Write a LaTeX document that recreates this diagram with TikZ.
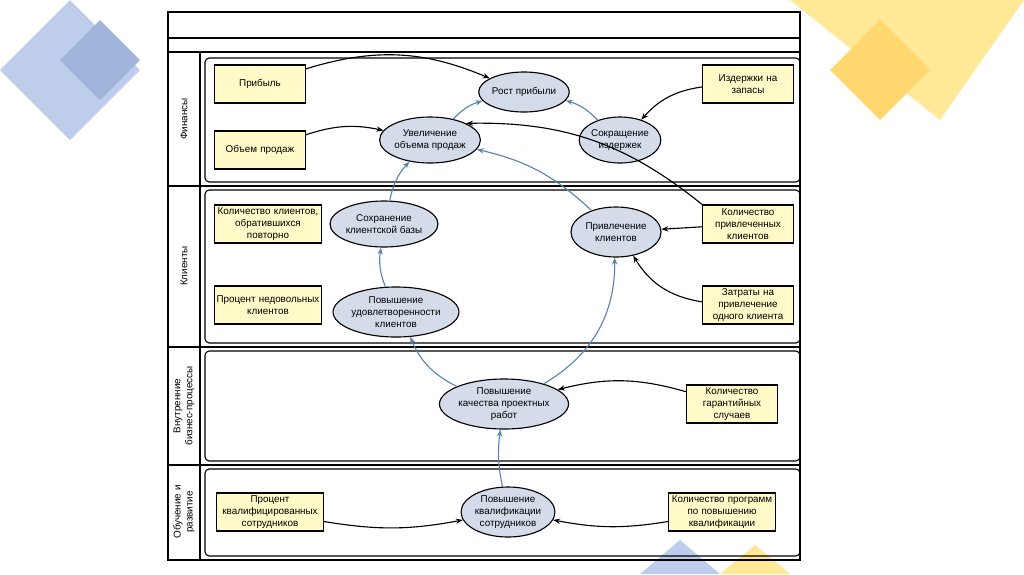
\documentclass[tikz,border=0pt]{standalone}
\usepackage{fontspec}
\setmainfont{Liberation Sans}
\usetikzlibrary{arrows.meta,shapes.geometric}
\definecolor{decoblue}{RGB}{190,205,235}
\definecolor{decoblue2}{RGB}{160,180,220}
\definecolor{decoyel}{RGB}{255,232,150}
\definecolor{decoyel2}{RGB}{255,215,110}
\definecolor{linkblue}{RGB}{90,130,180}
\definecolor{aimfill}{RGB}{212,220,234}
\definecolor{goalfill}{RGB}{255,250,200}
\begin{document}
\begin{tikzpicture}[x=0.025cm,y=-0.025cm,
  goal/.style={draw,thick,fill=goalfill,align=center,font=\fontsize{7}{8.5}\selectfont,minimum height=0.95cm,text width=2.2cm,inner sep=1pt},
  aim/.style={draw,thick,ellipse,fill=aimfill,align=center,font=\fontsize{7}{8.5}\selectfont,inner sep=0pt},
  blk/.style={-{Stealth[length=5pt]},thick},
  blu/.style={-{Stealth[length=5pt]},thick,linkblue},
  lane/.style={rotate=90,align=center,font=\fontsize{7}{8.5}\selectfont}]
\useasboundingbox (0,0) rectangle (1024,574);
% decoration
\fill[decoblue] (0,70) -- (70,0) -- (140,70) -- (70,140) -- cycle;
\fill[decoblue2] (60,60) -- (100,20) -- (140,60) -- (100,100) -- cycle;
\fill[decoyel] (790,0) -- (1024,0) -- (940,120) -- cycle;
\fill[decoyel2] (830,70) -- (880,20) -- (930,70) -- (880,120) -- cycle;
\fill[decoblue] (640,574) -- (680,540) -- (720,574) -- cycle;
\fill[decoyel] (720,574) -- (755,545) -- (790,574) -- cycle;
% frame and lanes
\draw[thick] (168,12) rectangle (800,560);
\draw[thick] (168,38) -- (800,38) (168,52) -- (800,52);
\draw[thick] (168,186) -- (800,186) (168,347) -- (800,347) (168,465) -- (800,465);
\draw[thick] (200,52) -- (200,560);
\foreach \a/\b in {58/182,190/343,351/461,469/556}
  \draw[thick,rounded corners=3] (205,\a) rectangle (800,\b);
\node[lane] (lf) at (184,119) {Финансы};
\node[lane] (lc) at (184,266) {Клиенты};
\node[lane] (lp) at (184,406) {Внутренние\\бизнес-процессы};
\node[lane] (ll) at (184,512) {Обучение и\\развитие};
% indicators
\node[goal] (pr) at (260,84) {Прибыль};
\node[goal] (ob) at (260,150) {Объем продаж};
\node[goal] (iz) at (748,84) {Издержки на\\запасы};
\node[goal,text width=2.6cm] (kp) at (268,224) {Количество клиентов,\\обратившихся\\повторно};
\node[goal,text width=2.6cm] (pn) at (268,305) {Процент недовольных\\клиентов};
\node[goal] (kv) at (748,224) {Количество\\привлеченных\\клиентов};
\node[goal] (zt) at (748,305) {Затраты на\\привлечение\\одного клиента};
\node[goal] (gs) at (732,404) {Количество\\гарантийных\\случаев};
\node[goal,text width=2.6cm] (pk) at (270,512) {Процент\\квалифицированных\\сотрудников};
\node[goal,text width=2.6cm] (kpk) at (722,512) {Количество программ\\по повышению\\квалификации};
% goals
\node[aim,minimum width=1.8cm,minimum height=1cm] (rp) at (524,92) {Рост прибыли};
\node[aim,minimum width=2.1cm,minimum height=1.15cm] (uo) at (430,140) {Увеличение\\объема продаж};
\node[aim,minimum width=1.8cm,minimum height=1.15cm] (si) at (620,140) {Сокращение\\издержек};
\node[aim,minimum width=1.8cm,minimum height=1.15cm] (sk) at (384,224) {Сохранение\\клиентской базы};
\node[aim,minimum width=2.25cm,minimum height=1.25cm] (pc) at (616,232) {Привлечение\\клиентов};
\node[aim,minimum width=2.2cm,minimum height=1.25cm] (pu) at (396,312) {Повышение\\удовлетворенности\\клиентов};
\node[aim,minimum width=2.25cm,minimum height=1.25cm] (pq) at (504,404) {Повышение\\качества проектных\\работ};
\node[aim,minimum width=2.2cm,minimum height=1.25cm] (ps) at (508,512) {Повышение\\квалификации\\сотрудников};
% black links
\draw[blk] (pr) to[bend left=20] (rp);
\draw[blk] (ob) to[bend left=15] (uo);
\draw[blk] (iz) to[bend right=20] (si);
\draw[blk] (kv.north west) to[bend right=20] (uo.north east);
\draw[blk] (kv) -- (pc);
\draw[blk] (zt) to[bend left=25] (pc);
\draw[blk] (gs) to[bend right=15] (pq);
\draw[blk] (pk) to[bend right=10] (ps);
\draw[blk] (kpk) to[bend left=10] (ps);
% blue links
\draw[blu] (uo) to[bend left=15] (rp);
\draw[blu] (si) to[bend right=15] (rp);
\draw[blu] (sk) to[bend left=15] (uo);
\draw[blu] (pu) to[bend left=15] (sk);
\draw[blu] (pq) to[bend left=20] (pu);
\draw[blu] (pq) to[bend right=30] (pc);
\draw[blu] (pc) to[bend right=15] (uo);
\draw[blu] (ps) to[bend left=10] (pq);
\end{tikzpicture}
\end{document}
